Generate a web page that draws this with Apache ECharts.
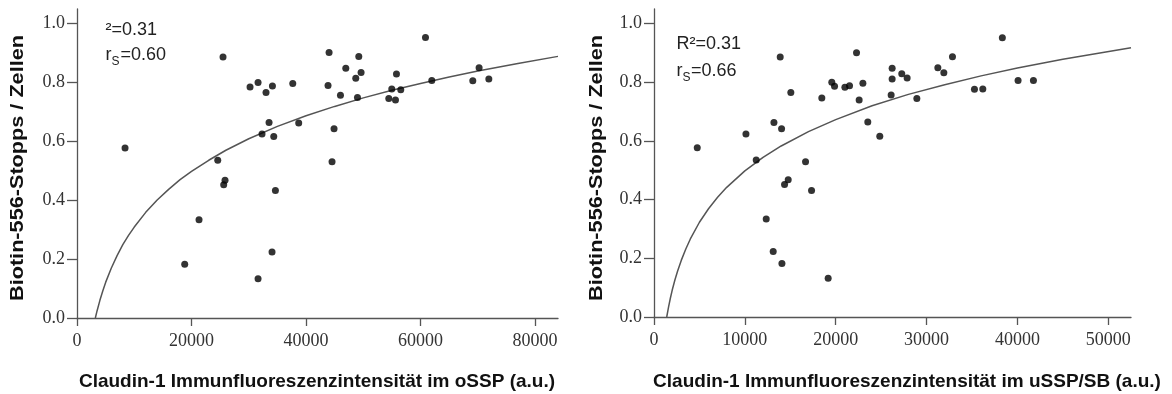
<!DOCTYPE html>
<html>
<head>
<meta charset="utf-8">
<script src="https://cdn.jsdelivr.net/npm/echarts@6/dist/echarts.min.js"></script>
<style>html,body{margin:0;padding:0;background:#fff}#c{width:1172px;height:394px}</style>
</head>
<body>
<div id="c"></div>
<script>
// ---- data ----
const leftX = [8390,25500,30220,31620,33010,34130,37680,33540,38720,32310,34360,24580,25850,25620,34650,21310,18810,34060,31620,44020,49210,46940,49610,48680,55790,43840,46010,48980,54970,56540,54450,55620,60860,61960,70220,69120,71920,44890,44540];
const leftY = [0.578,0.887,0.785,0.800,0.766,0.788,0.797,0.664,0.663,0.625,0.617,0.536,0.468,0.453,0.433,0.334,0.183,0.224,0.133,0.902,0.889,0.849,0.834,0.815,0.829,0.790,0.757,0.749,0.778,0.776,0.746,0.741,0.953,0.807,0.850,0.806,0.812,0.643,0.531];
const rightX = [4760,13890,15060,10120,13200,14040,11250,16680,14770,14370,17340,18470,19570,19870,21010,21520,22990,22290,22580,23530,24850,26210,26210,26100,27270,27860,28930,31240,31900,32850,38340,35270,36190,40070,41760,12350,13120,14080,19170];
const rightY = [0.577,0.886,0.765,0.624,0.663,0.642,0.535,0.529,0.468,0.452,0.431,0.747,0.800,0.787,0.783,0.788,0.797,0.901,0.740,0.665,0.616,0.848,0.811,0.757,0.829,0.815,0.745,0.850,0.833,0.887,0.952,0.776,0.777,0.806,0.806,0.334,0.223,0.182,0.132];
// fitted curves
const curveLX = [3200,3500,4000,4500,5000,6000,7000,8000,9000,10000,12000,14000,16000,18000,20000,23000,26000,30000,35000,40000,45000,50000,55000,60000,65000,70000,77000,84000];
const curveLY = [0,0.024,0.060,0.092,0.121,0.170,0.212,0.249,0.281,0.309,0.359,0.401,0.437,0.470,0.498,0.536,0.570,0.609,0.651,0.687,0.719,0.748,0.774,0.797,0.819,0.839,0.865,0.889];
const curveRX = [1400,1600,1800,2000,2300,2600,3000,3500,4000,5000,6000,7000,8000,10000,12000,14000,17000,20000,24000,28000,32000,36000,40000,45000,52500];
const curveRY = [0,0.034,0.064,0.091,0.126,0.157,0.193,0.232,0.266,0.323,0.369,0.408,0.442,0.498,0.544,0.583,0.632,0.673,0.720,0.759,0.792,0.822,0.849,0.879,0.918];
const xTicksL = [0,20000,40000,60000,80000];
const xTicksR = [0,10000,20000,30000,40000,50000];
const yTicks = [0,0.2,0.4,0.6,0.8,1.0];

const zip = (a,b) => a.map((v,i)=>[v,b[i]]);
const SANS = 'Liberation Sans, Arial, sans-serif';
const SERIF = 'Liberation Serif, Times New Roman, serif';
const axisCol = '#555';

function xAxis(idx, max, ticks){
  return {type:'value', gridIndex:idx, min:0, max:max,
    axisLine:{show:true, lineStyle:{color:axisCol, width:1.3}},
    axisTick:{show:true, length:8, customValues:ticks, lineStyle:{color:axisCol, width:1.3}},
    axisLabel:{customValues:ticks, formatter:v=>String(v), fontFamily:SERIF, fontSize:18, color:'#333', margin:14},
    splitLine:{show:false}};
}
function yAxis(idx){
  return {type:'value', gridIndex:idx, min:0, max:1.05,
    axisLine:{show:true, lineStyle:{color:axisCol, width:1.3}},
    axisTick:{show:true, length:10, customValues:yTicks, lineStyle:{color:axisCol, width:1.3}},
    axisLabel:{customValues:yTicks, formatter:v=>Number(v).toFixed(1), fontFamily:SERIF, fontSize:18, color:'#333', margin:12},
    splitLine:{show:false}};
}
function txt(text, x, y, size, opts){
  opts = opts || {};
  const el = {type:'text', x:x, y:y, silent:true,
    style:{text:text, font:(opts.bold?'bold ':'')+size+'px '+SANS, fill:opts.fill||'#222',
      textAlign:opts.align||'left', textVerticalAlign:'middle', verticalAlign:'middle'}};
  if (opts.rotation !== undefined) el.rotation = opts.rotation;
  if (opts.scaleX !== undefined) el.scaleX = opts.scaleX;
  return el;
}

const chart = echarts.init(document.getElementById('c'), null, {renderer:'canvas'});
chart.setOption({
  animation:false,
  backgroundColor:'#fff',
  grid:[
    {left:77, top:9, right:614, bottom:76, containLabel:false, outerBoundsMode:'none'},
    {left:654, top:9, right:41, bottom:77, containLabel:false, outerBoundsMode:'none'}
  ],
  xAxis:[xAxis(0, 84000, xTicksL), xAxis(1, 52500, xTicksR)],
  yAxis:[yAxis(0), yAxis(1)],
  series:[
    {type:'line', xAxisIndex:0, yAxisIndex:0, data:zip(curveLX,curveLY), smooth:false, showSymbol:false, lineStyle:{color:'#555', width:1.5}, z:1},
    {type:'scatter', xAxisIndex:0, yAxisIndex:0, data:zip(leftX,leftY), symbolSize:7, itemStyle:{color:'#000'}, z:2},
    {type:'line', xAxisIndex:1, yAxisIndex:1, data:zip(curveRX,curveRY), smooth:false, showSymbol:false, lineStyle:{color:'#555', width:1.5}, z:1},
    {type:'scatter', xAxisIndex:1, yAxisIndex:1, data:zip(rightX,rightY), symbolSize:7, itemStyle:{color:'#000'}, z:2}
  ],
  graphic:[
    txt('Biotin-556-Stopps / Zellen', 18, 168, 19, {bold:true, align:'center', rotation:Math.PI/2, scaleX:1.14, fill:'#111'}),
    txt('Biotin-556-Stopps / Zellen', 597, 168, 19, {bold:true, align:'center', rotation:Math.PI/2, scaleX:1.14, fill:'#111'}),
    txt('Claudin-1 Immunfluoreszenzintensität im oSSP (a.u.)', 317, 382, 19, {bold:true, align:'center', fill:'#111'}),
    txt('Claudin-1 Immunfluoreszenzintensität im uSSP/SB (a.u.)', 907, 382, 19, {bold:true, align:'center', fill:'#111'}),
    txt('²=0.31', 105.5, 30, 18),
    txt('r', 105.5, 55, 18),
    txt('S', 111.5, 61.5, 12),
    txt('=0.60', 120.5, 55, 18),
    txt('R²=0.31', 676.5, 44, 18),
    txt('r', 676.5, 71, 18),
    txt('S', 682.5, 77.5, 12),
    txt('=0.66', 691, 71, 18)
  ]
});
</script>
</body>
</html>
